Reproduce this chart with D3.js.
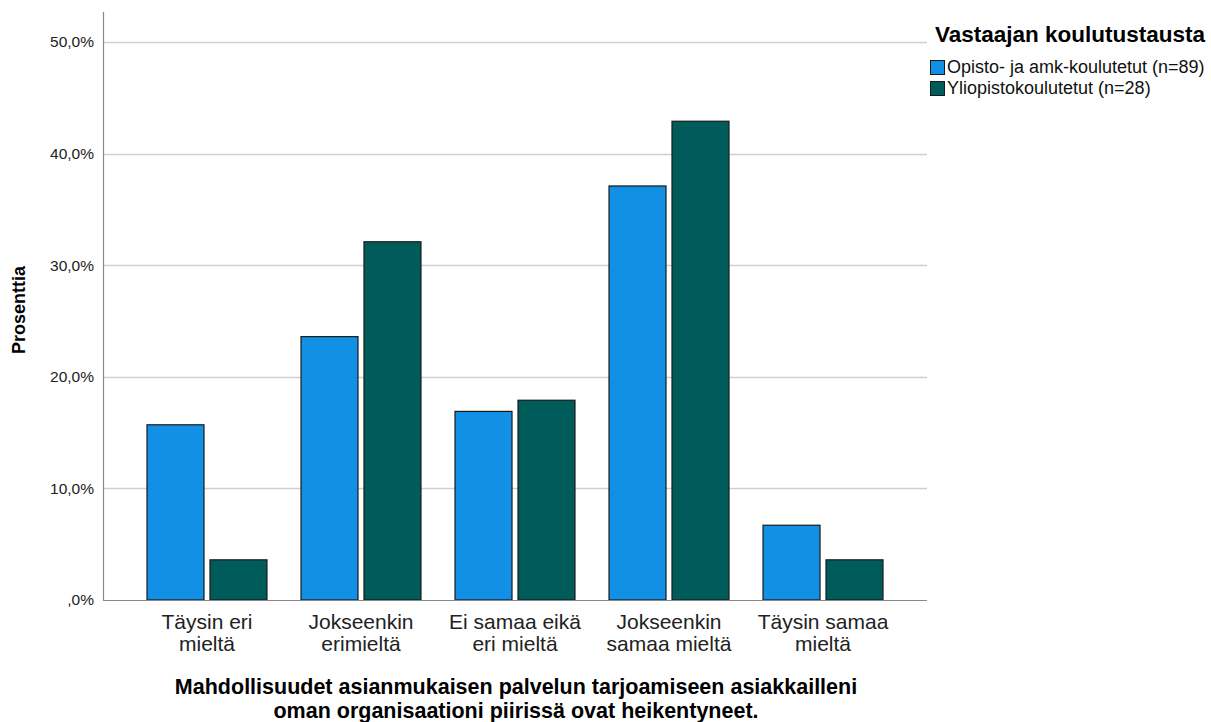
<!DOCTYPE html>
<html><head><meta charset="utf-8">
<script src="https://cdn.jsdelivr.net/npm/d3@7"></script>
<style>body{margin:0;background:#fff}svg{display:block}text{font-family:"Liberation Sans",Arial,sans-serif}</style>
</head><body><svg id="c" width="1211" height="722"></svg>
<script>
const categories = [["Täysin eri","mieltä"],["Jokseenkin","erimieltä"],["Ei samaa eikä","eri mieltä"],["Jokseenkin","samaa mieltä"],["Täysin samaa","mieltä"]];
const seriesNames = ["Opisto- ja amk-koulutetut (n=89)","Yliopistokoulutetut (n=28)"];
const opisto = [15.7, 23.6, 16.9, 37.1, 6.7];
const yliopisto = [3.6, 32.1, 17.9, 42.9, 3.6];
const yTicks = [0,10,20,30,40,50];
const colors = ["#1190e6","#005c5b"];
const legendTitle = "Vastaajan koulutustausta";
const yTitle = "Prosenttia";
const xTitle = ["Mahdollisuudet asianmukaisen palvelun tarjoamiseen asiakkailleni","oman organisaationi piirissä ovat heikentyneet."];

const svg = d3.select("#c");
const L=103,R=927,T=12,B=600;
const y = d3.scaleLinear().domain([0,50]).range([B,42]);
const x0 = d3.scaleBand().domain(d3.range(5)).range([L,R]).paddingInner(0.221).paddingOuter(0.2857);
const x1 = d3.scaleBand().domain([0,1]).range([0,x0.bandwidth()]).paddingInner(0.095);

// gridlines
svg.append("g").selectAll("line").data(yTicks.filter(d=>d>0)).join("line")
 .attr("x1",L).attr("x2",R).attr("y1",d=>Math.round(y(d))+0.5).attr("y2",d=>Math.round(y(d))+0.5)
 .attr("stroke","#cfcfcf").attr("stroke-width",1.5);

// y axis
const ya = svg.append("g").attr("transform",`translate(${L},0)`)
 .call(d3.axisLeft(y).tickValues(yTicks).tickSize(0).tickPadding(9).tickFormat(d=> d===0?",0%":d3.format(".1f")(d).replace(".",",")+"%"));
ya.select(".domain").remove();
ya.selectAll("text").attr("font-size",15.5).attr("fill","#222").attr("font-family","Liberation Sans, Arial, sans-serif");
svg.append("line").attr("x1",L+0.5).attr("x2",L+0.5).attr("y1",T).attr("y2",B).attr("stroke","#888").attr("stroke-width",1.2);

// bars
const data = [opisto, yliopisto];
const g = svg.append("g");
categories.forEach((c,i)=>{
  data.forEach((s,j)=>{
    g.append("rect").attr("x",x0(i)+x1(j)).attr("y",y(s[i])).attr("width",x1.bandwidth()).attr("height",B-y(s[i]))
     .attr("fill",colors[j]).attr("stroke","#1a1a1a").attr("stroke-width",1.2);
  });
});

// x axis
svg.append("line").attr("x1",L).attr("x2",R).attr("y1",B+0.5).attr("y2",B+0.5).attr("stroke","#888").attr("stroke-width",1.2);
const xa = svg.append("g").attr("transform",`translate(0,${B})`).call(d3.axisBottom(x0).tickSize(0).tickFormat(""));
xa.select(".domain").remove();
categories.forEach((c,i)=>{
  const cx = x0(i)+x0.bandwidth()/2;
  const t = svg.append("text").attr("text-anchor","middle").attr("font-size",21).attr("fill","#222");
  c.forEach((ln,k)=> t.append("tspan").attr("x",cx).attr("y",629+k*22).text(ln));
});

// x title (two lines)
xTitle.forEach((ln,k)=> svg.append("text").attr("text-anchor","middle").attr("font-size",21.5).attr("font-weight","bold")
  .attr("fill","#000").attr("x",516).attr("y",694+k*24).text(ln));

// y title
svg.append("text").attr("transform","translate(25,310) rotate(-90)").attr("text-anchor","middle")
 .attr("font-size",18).attr("font-weight","bold").attr("fill","#000").text(yTitle);

// legend
svg.append("text").attr("x",935).attr("y",42).attr("font-size",22.5).attr("font-weight","bold").attr("fill","#000").text(legendTitle);
seriesNames.forEach((n,j)=>{
  const yy = 60 + j*21;
  svg.append("rect").attr("x",930.5).attr("y",yy+0.5).attr("width",14).attr("height",14).attr("fill",colors[j]).attr("stroke","#1a1a1a").attr("stroke-width",1);
  svg.append("text").attr("x",947).attr("y",yy+13).attr("font-size",18).attr("fill","#111").text(n);
});
</script></body></html>
